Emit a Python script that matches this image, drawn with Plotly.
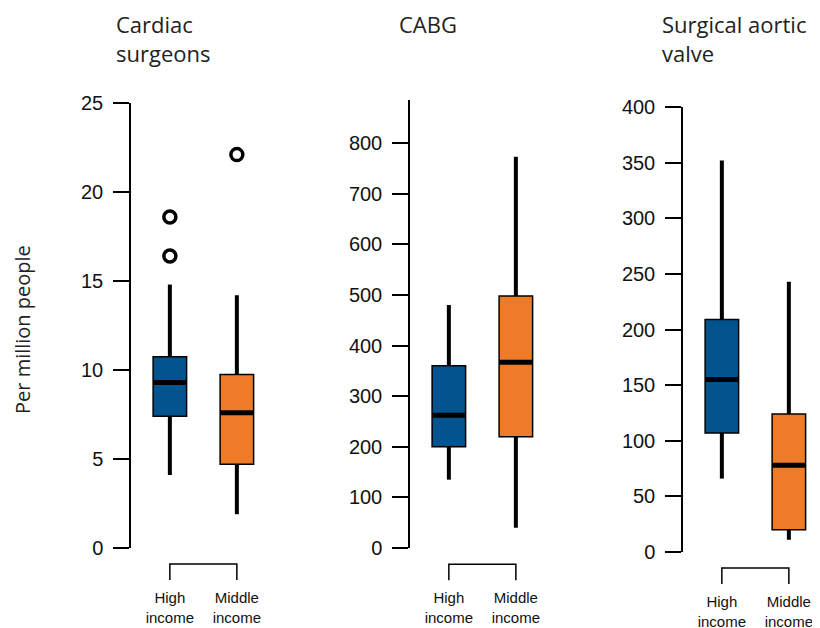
import plotly.graph_objects as go

# ---- data ----
groups = ["High<br>income", "Middle<br>income"]
positions = [1, 2]
titles = ["Cardiac<br>surgeons", "CABG", "Surgical aortic<br>valve"]

cardiac_low = [4.1, 1.9]
cardiac_q1 = [7.4, 4.7]
cardiac_med = [9.3, 7.6]
cardiac_q3 = [10.75, 9.75]
cardiac_high = [14.8, 14.2]
cardiac_out_x = [1, 1, 2]
cardiac_out_y = [16.4, 18.6, 22.1]

cabg_low = [135, 40]
cabg_q1 = [200, 220]
cabg_med = [262, 367]
cabg_q3 = [360, 498]
cabg_high = [480, 773]

valve_low = [66, 11]
valve_q1 = [107, 20]
valve_med = [155, 78]
valve_q3 = [209, 124]
valve_high = [352, 243]

colors = ['#02548F', '#ED7B27']

# the page puts the figure 8px in from the top-left corner
OFF = 8
W, H = 820, 628
BOX_W = 0.5
X_RANGE = [0.42, 2.3]


def fx(px):
    return (px - OFF) / W


def fy(px):
    return 1 - (px - OFF) / H


panels = [
    dict(low=cardiac_low, q1=cardiac_q1, med=cardiac_med, q3=cardiac_q3, high=cardiac_high,
         out_x=cardiac_out_x, out_y=cardiac_out_y, yrange=[0, 25], dtick=5,
         axis_px=131, top_px=103, bottom_px=548, title_px=115),
    dict(low=cabg_low, q1=cabg_q1, med=cabg_med, q3=cabg_q3, high=cabg_high,
         out_x=[], out_y=[], yrange=[0, 885], dtick=100, tickmax=800,
         axis_px=410, top_px=100, bottom_px=548, title_px=398),
    dict(low=valve_low, q1=valve_q1, med=valve_med, q3=valve_q3, high=valve_high,
         out_x=[], out_y=[], yrange=[0, 400], dtick=50,
         axis_px=683, top_px=107, bottom_px=552, title_px=661),
]

fig = go.Figure()
layout = {}
shapes = []
annotations = []

for i, p in enumerate(panels):
    n = '' if i == 0 else str(i + 1)
    xa, ya = 'x' + n, 'y' + n
    unit = 67.0
    x0 = fx(p['axis_px'])
    x1 = fx(p['axis_px'] + (X_RANGE[1] - X_RANGE[0]) * unit)
    y0 = fy(p['bottom_px'])
    y1 = fy(p['top_px'])

    # whiskers
    wx, wy = [], []
    for k in range(2):
        wx += [positions[k], positions[k], None, positions[k], positions[k], None]
        wy += [p['low'][k], p['q1'][k], None, p['q3'][k], p['high'][k], None]
    fig.add_trace(go.Scatter(x=wx, y=wy, mode='lines', xaxis=xa, yaxis=ya,
                             line=dict(color='black', width=4), hoverinfo='skip'))

    # boxes
    fig.add_trace(go.Bar(
        x=positions, y=[q3 - q1 for q1, q3 in zip(p['q1'], p['q3'])], base=p['q1'],
        width=BOX_W, xaxis=xa, yaxis=ya,
        marker=dict(color=colors, line=dict(color='black', width=1.5))
    ))

    # medians
    mx, my = [], []
    for k in range(2):
        mx += [positions[k] - BOX_W / 2, positions[k] + BOX_W / 2, None]
        my += [p['med'][k], p['med'][k], None]
    fig.add_trace(go.Scatter(x=mx, y=my, mode='lines', xaxis=xa, yaxis=ya,
                             line=dict(color='black', width=5), hoverinfo='skip'))

    # outliers
    if p['out_x']:
        fig.add_trace(go.Scatter(
            x=p['out_x'], y=p['out_y'], mode='markers', xaxis=xa, yaxis=ya,
            marker=dict(symbol='circle-open', size=12, color='black', line=dict(width=3.5))
        ))

    tickmax = p.get('tickmax', p['yrange'][1])
    tickvals = list(range(0, int(tickmax) + 1, p['dtick']))
    layout['xaxis' + n] = dict(
        domain=[x0, x1], range=X_RANGE, anchor=ya, showgrid=False, zeroline=False,
        showline=False, tickvals=positions, ticktext=groups, ticks='outside',
        ticklen=36, tickcolor='rgba(0,0,0,0)', automargin=False,
        tickfont=dict(family='Liberation Sans', size=15, color='#111')
    )
    layout['yaxis' + n] = dict(
        domain=[y0, y1], range=p['yrange'], anchor=xa, showgrid=False, zeroline=False,
        showline=True, linecolor='black', linewidth=1.5, ticks='outside', ticklen=16,
        tickwidth=1.5, tickcolor='black', tickvals=tickvals, automargin=False,
        ticklabelstandoff=6,
        tickfont=dict(family='Liberation Sans', size=20, color='#111')
    )

    # bracket under the two groups
    shapes.append(dict(
        type='path', xref=xa, yref=ya + ' domain',
        path=f'M {positions[0]},-0.072 L {positions[0]},-0.036 L {positions[1]},-0.036 L {positions[1]},-0.072',
        line=dict(color='black', width=1.5)
    ))

    annotations.append(dict(
        text=titles[i], xref='paper', yref='paper', x=fx(p['title_px']), y=1,
        xanchor='left', yanchor='top', align='left', showarrow=False, borderpad=0,
        font=dict(family='Open Sans', size=22, color='#222')
    ))

annotations.append(dict(
    text='Per million people', xref='paper', yref='paper', x=fx(22), y=fy(330),
    textangle=-90, showarrow=False, xanchor='center', yanchor='middle',
    font=dict(family='Open Sans', size=20, color='#222')
))

fig.update_layout(
    width=W, height=H, margin=dict(l=0, r=0, t=0, b=0),
    paper_bgcolor='white', plot_bgcolor='white', showlegend=False,
    shapes=shapes, annotations=annotations, **layout
)

fig.write_html("out.html")
